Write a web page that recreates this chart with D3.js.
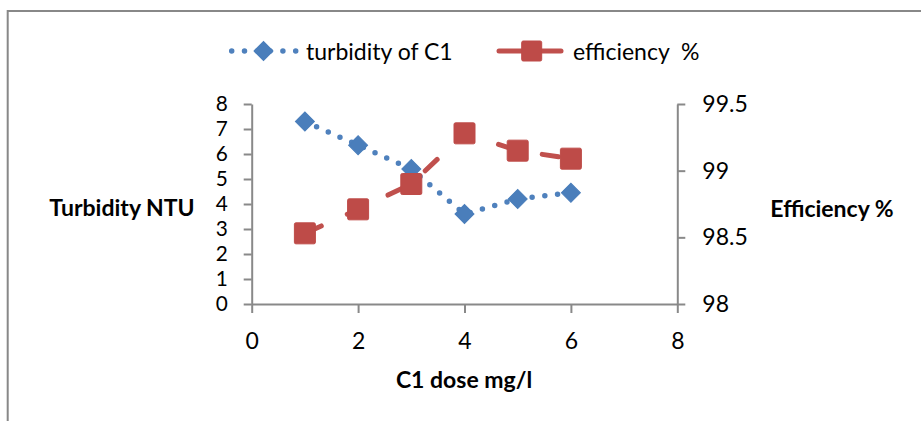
<!DOCTYPE html>
<html>
<head>
<meta charset="utf-8">
<script src="https://cdn.jsdelivr.net/npm/d3@7"></script>
<style>
  body { margin: 0; background: #fff; }
  svg { display: block; font-family: Lato, "Open Sans", sans-serif; }
</style>
</head>
<body>
<script>
// chart data
const doses = [1, 2, 3, 4, 5, 6];
const turbidity = [7.3, 6.35, 5.4, 3.6, 4.2, 4.45];
const efficiency = [98.53, 98.71, 98.9, 99.28, 99.15, 99.09];

const xTicks = [0, 2, 4, 6, 8];
const leftTicks = [0, 1, 2, 3, 4, 5, 6, 7, 8];
const rightTicks = [98, 98.5, 99, 99.5];

const seriesNames = ["turbidity of C1", "efficiency  %"];

const width = 921;
const height = 421;
const axisColor = "#898989";
const blue = "#4A7EBB";
const red = "#BE4B48";

const svg = d3.select("body").append("svg")
  .attr("width", width)
  .attr("height", height);

svg.append("rect")
  .attr("width", width)
  .attr("height", height)
  .attr("fill", "#fff");

// chart frame (only top and left edges are inside the window)
svg.append("rect")
  .attr("x", 7.7)
  .attr("y", 11)
  .attr("width", 1000)
  .attr("height", 600)
  .attr("fill", "none")
  .attr("stroke", "#888")
  .attr("stroke-width", 2);

const x = d3.scaleLinear().domain([0, 8]).range([251.7, 677.3]);
const yL = d3.scaleLinear().domain([0, 8]).range([304, 104]);
const yR = d3.scaleLinear().domain([98, 99.5]).range([304, 104]);

function styleAxis(g, size) {
  g.select(".domain").attr("stroke", axisColor).attr("stroke-width", 2);
  g.selectAll(".tick line").attr("stroke", axisColor).attr("stroke-width", 2);
  g.selectAll(".tick text")
    .attr("fill", "#000")
    .style("font-size", size + "px")
    .style("font-family", "Lato, 'Open Sans', sans-serif");
}

svg.append("g")
  .attr("transform", `translate(0,${yL(0)})`)
  .call(d3.axisBottom(x).tickValues(xTicks).tickSize(9).tickSizeOuter(0).tickPadding(20))
  .call(styleAxis, 23);

// left labels sit close together, keep them a little smaller
svg.append("g")
  .attr("transform", `translate(${x(0)},0)`)
  .call(d3.axisLeft(yL).tickValues(leftTicks).tickSize(8).tickSizeOuter(0).tickPadding(16))
  .call(styleAxis, 20.8);

svg.append("g")
  .attr("transform", `translate(${x(8)},0)`)
  .call(d3.axisRight(yR).tickValues(rightTicks).tickFormat(d3.format("")).tickSize(8).tickSizeOuter(0).tickPadding(17))
  .call(styleAxis, 23);

// axis titles
svg.append("text")
  .attr("x", 122)
  .attr("y", 207)
  .attr("text-anchor", "middle")
  .attr("dominant-baseline", "central")
  .style("font-size", "23px")
  .style("font-weight", "bold")
  .text("Turbidity NTU");

svg.append("text")
  .attr("x", 832)
  .attr("y", 208)
  .attr("text-anchor", "middle")
  .attr("dominant-baseline", "central")
  .style("font-size", "23px")
  .style("font-weight", "bold")
  .text("Efficiency %");

svg.append("text")
  .attr("x", 464)
  .attr("y", 379)
  .attr("text-anchor", "middle")
  .attr("dominant-baseline", "central")
  .style("font-size", "23px")
  .style("font-weight", "bold")
  .text("C1 dose mg/l");

const diamond = d3.symbol().type(d3.symbolSquare).size(180);

// turbidity series: dotted line with diamonds
const turbData = doses.map((d, i) => [d, turbidity[i]]);
svg.append("path")
  .datum(turbData)
  .attr("fill", "none")
  .attr("stroke", "#4F81BD")
  .attr("stroke-width", 5.5)
  .attr("stroke-linecap", "round")
  .attr("stroke-dasharray", "0,12.8")
  .attr("d", d3.line().x(d => x(d[0])).y(d => yL(d[1])));

svg.append("g")
  .selectAll("path")
  .data(turbData)
  .join("path")
  .attr("transform", d => `translate(${x(d[0])},${yL(d[1])}) rotate(45)`)
  .attr("d", diamond)
  .attr("fill", blue)
  .attr("stroke", blue)
  .attr("stroke-width", 1);

// efficiency series: dashed line with squares
const effData = doses.map((d, i) => [d, efficiency[i]]);
svg.append("path")
  .datum(effData)
  .attr("fill", "none")
  .attr("stroke", "#C0504D")
  .attr("stroke-width", 5)
  .attr("stroke-linecap", "round")
  .attr("stroke-dasharray", "16.5,28.5")
  .attr("stroke-dashoffset", -1.5)
  .attr("d", d3.line().x(d => x(d[0])).y(d => yR(d[1])));

svg.append("g")
  .selectAll("rect")
  .data(effData)
  .join("rect")
  .attr("x", d => x(d[0]) - 10.5)
  .attr("y", d => yR(d[1]) - 10.5)
  .attr("width", 21)
  .attr("height", 21)
  .attr("rx", 1.5)
  .attr("fill", red)
  .attr("stroke", red)
  .attr("stroke-width", 1);

// legend
const legendY = 51;
const leg = svg.append("g");

leg.append("line")
  .attr("x1", 231.7).attr("x2", 295.7)
  .attr("y1", legendY).attr("y2", legendY)
  .attr("stroke", "#4F81BD")
  .attr("stroke-width", 5.5)
  .attr("stroke-linecap", "round")
  .attr("stroke-dasharray", "0,12.8");

leg.append("path")
  .attr("transform", `translate(263.5,${legendY}) rotate(45)`)
  .attr("d", diamond)
  .attr("fill", blue)
  .attr("stroke", blue);

leg.append("text")
  .attr("x", 306)
  .attr("y", legendY)
  .attr("dominant-baseline", "central")
  .style("font-size", "23px")
  .text(seriesNames[0]);

leg.append("line")
  .attr("x1", 499).attr("x2", 561)
  .attr("y1", legendY).attr("y2", legendY)
  .attr("stroke", "#C0504D")
  .attr("stroke-width", 5)
  .attr("stroke-linecap", "round");

leg.append("rect")
  .attr("x", 531.7 - 10)
  .attr("y", legendY - 10)
  .attr("width", 20)
  .attr("height", 20)
  .attr("rx", 1.5)
  .attr("fill", red)
  .attr("stroke", red);

leg.append("text")
  .attr("x", 573)
  .attr("y", legendY)
  .attr("dominant-baseline", "central")
  .style("font-size", "23px")
  .style("white-space", "pre")
  .text(seriesNames[1]);
</script>
</body>
</html>
